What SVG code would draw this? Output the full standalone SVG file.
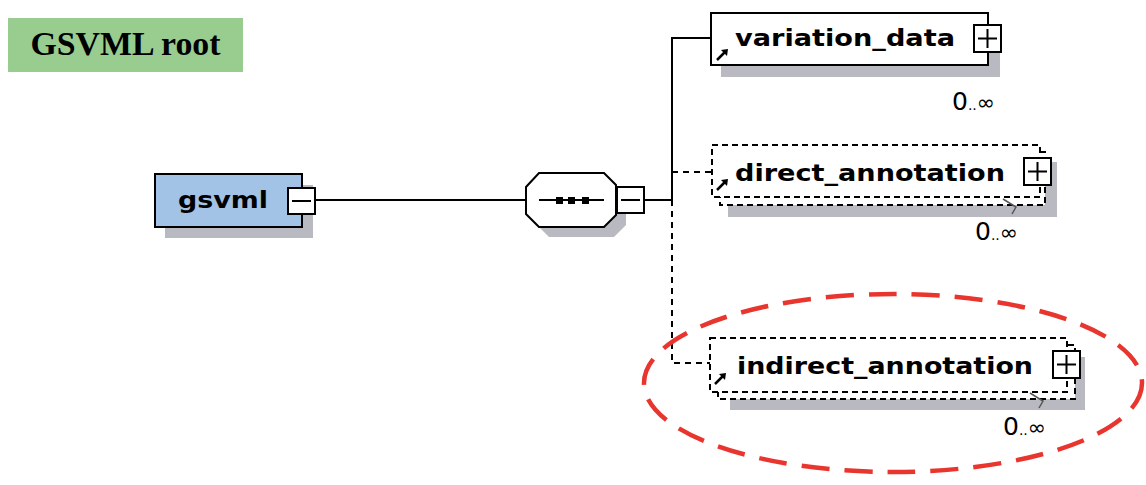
<svg xmlns="http://www.w3.org/2000/svg" width="1146" height="485" viewBox="0 0 1146 485">
<style>
.shadow{fill:#b9b9c1}
.box{fill:#fff;stroke:#000;stroke-width:2}
.dbox{fill:#fff;stroke:#000;stroke-width:2;stroke-dasharray:6 4}
.lbl{font-family:"DejaVu Sans",sans-serif;font-weight:bold;font-size:23px;fill:#000}
.card{font-family:"DejaVu Sans",sans-serif;fill:#000}
.wire{fill:none;stroke:#000;stroke-width:2}
.dwire{fill:none;stroke:#000;stroke-width:2;stroke-dasharray:6 5}
.pm{fill:#fff;stroke:#000;stroke-width:2}
</style>
<defs>
<g id="ref">
<path d="M0 12 L9 3" stroke="#000" stroke-width="2.5" fill="none"/>
<path d="M4 2 L11 1 L10 8 Z" fill="#000"/>
</g>
<g id="plus">
<rect x="0" y="0" width="27" height="27" class="pm"/>
<path d="M4 13.5 H23 M13.5 4 V23" stroke="#000" stroke-width="2"/>
</g>
<g id="minus">
<rect x="0" y="0" width="27" height="26" class="pm"/>
<path d="M4 13 H23" stroke="#000" stroke-width="2"/>
</g>
</defs>

<g id="title">
<rect x="8" y="18" width="235" height="54" fill="#99cc8f"/>
<text x="125.5" y="55" text-anchor="middle" font-family="Liberation Serif,serif" font-weight="bold" font-size="34" textLength="190" lengthAdjust="spacingAndGlyphs">GSVML root</text>
</g>

<g id="connectors">
<path class="wire" d="M315 200 H526"/>
<path class="wire" d="M644 200 H672"/>
<path class="wire" d="M672 200 V38 H711"/>
<path class="dwire" d="M672 172 H712"/>
<path class="dwire" d="M672 200 V363 H710"/>
</g>

<g id="gsvml">
<rect class="shadow" x="165" y="185" width="148" height="53"/>
<rect x="155" y="174" width="147" height="53" fill="#a3c3e6" stroke="#000" stroke-width="2"/>
<text class="lbl" x="178" y="208" textLength="90" lengthAdjust="spacingAndGlyphs">gsvml</text>
<use href="#minus" x="288" y="188"/>
</g>

<g id="sequence">
<path class="shadow" d="M549 183 H614 L626 195 V225 L614 237 H549 L536 224 V197 Z"/>
<path d="M539 173 H604 L616 185 V215 L604 227 H539 L526 214 V187 Z" fill="#fff" stroke="#000" stroke-width="2"/>
<path d="M539 200 H604" stroke="#000" stroke-width="2"/>
<rect x="556" y="197" width="7" height="7"/>
<rect x="568" y="197" width="7" height="7"/>
<rect x="582" y="197" width="7" height="7"/>
<use href="#minus" x="617" y="187"/>
</g>

<g id="variation_data">
<rect class="shadow" x="721" y="24" width="279" height="53"/>
<rect class="box" x="711" y="13" width="277" height="52"/>
<use href="#ref" x="717" y="48"/>
<text class="lbl" x="735" y="46" textLength="220" lengthAdjust="spacingAndGlyphs">variation_data</text>
<use href="#plus" x="974" y="25"/>
<text class="card" x="952" y="110"><tspan font-size="25">0</tspan><tspan font-size="14">..</tspan><tspan font-size="22">∞</tspan></text>
</g>

<g id="direct_annotation">
<rect class="shadow" x="728" y="162" width="329" height="55"/>
<rect class="dbox" x="720" y="152" width="325" height="53"/>
<rect class="dbox" x="712" y="145" width="328" height="52"/>
<use href="#ref" x="717" y="178"/>
<text class="lbl" x="735" y="181" textLength="270" lengthAdjust="spacingAndGlyphs">direct_annotation</text>
<use href="#plus" x="1024" y="158"/>
<path d="M1003 199 L1016 207 L1012 214" fill="none" stroke="#555" stroke-width="1.5"/>
<text class="card" x="975" y="240"><tspan font-size="25">0</tspan><tspan font-size="14">..</tspan><tspan font-size="22">∞</tspan></text>
</g>

<g id="indirect_annotation">
<rect class="shadow" x="730" y="357" width="355" height="53"/>
<rect class="dbox" x="718" y="345" width="357" height="54"/>
<rect class="dbox" x="710" y="338" width="357" height="54"/>
<use href="#ref" x="715" y="372"/>
<text class="lbl" x="737" y="374" textLength="296" lengthAdjust="spacingAndGlyphs">indirect_annotation</text>
<use href="#plus" x="1053" y="351"/>
<path d="M1030 393 L1043 401 L1039 408" fill="none" stroke="#555" stroke-width="1.5"/>
<text class="card" x="1003" y="435"><tspan font-size="25">0</tspan><tspan font-size="14">..</tspan><tspan font-size="22">∞</tspan></text>
</g>

<g id="highlight">
<ellipse cx="893" cy="383" rx="249" ry="89" fill="none" stroke="#e8352d" stroke-width="4.5" stroke-dasharray="28 15"/>
</g>
</svg>
